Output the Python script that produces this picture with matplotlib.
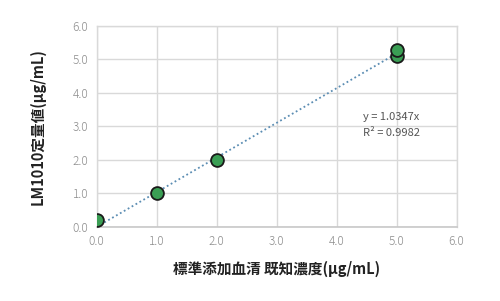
import matplotlib
matplotlib.use("Agg")
import matplotlib.pyplot as plt
import numpy as np

plt.rcParams['font.family'] = ['Noto Sans CJK JP', 'DejaVu Sans']

known = [0.0, 1.0, 2.0, 5.0, 5.0]
measured = [0.2, 1.0, 2.0, 5.1, 5.27]
slope = 1.0347
r2 = 0.9982
xticks = [0.0, 1.0, 2.0, 3.0, 4.0, 5.0, 6.0]
yticks = [0.0, 1.0, 2.0, 3.0, 4.0, 5.0, 6.0]

fig = plt.figure(figsize=(5.0, 3.01), dpi=100)
ax = fig.add_axes([0.193, 0.246, 0.72, 0.668])

xfit = np.array([0.0, max(known)])
ax.plot(xfit, slope * xfit, linestyle=(0, (1, 1.5)), color='#5b8db3', lw=1.3, zorder=2)
ax.scatter(known, measured, s=85, color='#3a9e54', edgecolor='#1a1a1a', linewidth=1.3, zorder=3)

ax.set_xlim(0, 6)
ax.set_ylim(0, 6)
ax.set_xticks(xticks)
ax.set_yticks(yticks)
ax.set_xticklabels([f"{v:.1f}" for v in xticks], fontweight='light')
ax.set_yticklabels([f"{v:.1f}" for v in yticks], fontweight='light')
ax.grid(True, color='#d9d9d9', lw=1.0)
ax.set_axisbelow(True)
for s in ['top', 'right', 'left']:
    ax.spines[s].set_color('#d9d9d9')
    ax.spines[s].set_linewidth(1.0)
ax.spines['bottom'].set_color('#c8c8c8')
ax.spines['bottom'].set_linewidth(1.2)
ax.tick_params(length=0, labelsize=8.5, labelcolor='#8c8c8c', pad=6)

ax.text(4.44, 3.28, f"y = {slope}x", fontsize=8, color='#555555', va='center', ha='left')
ax.text(4.44, 2.80, f"R² = {r2}", fontsize=8, color='#555555', va='center', ha='left')

ax.set_xlabel("標準添加血清 既知濃度(μg/mL)", fontsize=10.5, fontweight='bold', color='#222222', labelpad=9)
ax.set_ylabel("LM1010定量値(μg/mL)", fontsize=10.5, fontweight='bold', color='#222222', labelpad=19)

fig.savefig("out.png", dpi=100, facecolor='white')
